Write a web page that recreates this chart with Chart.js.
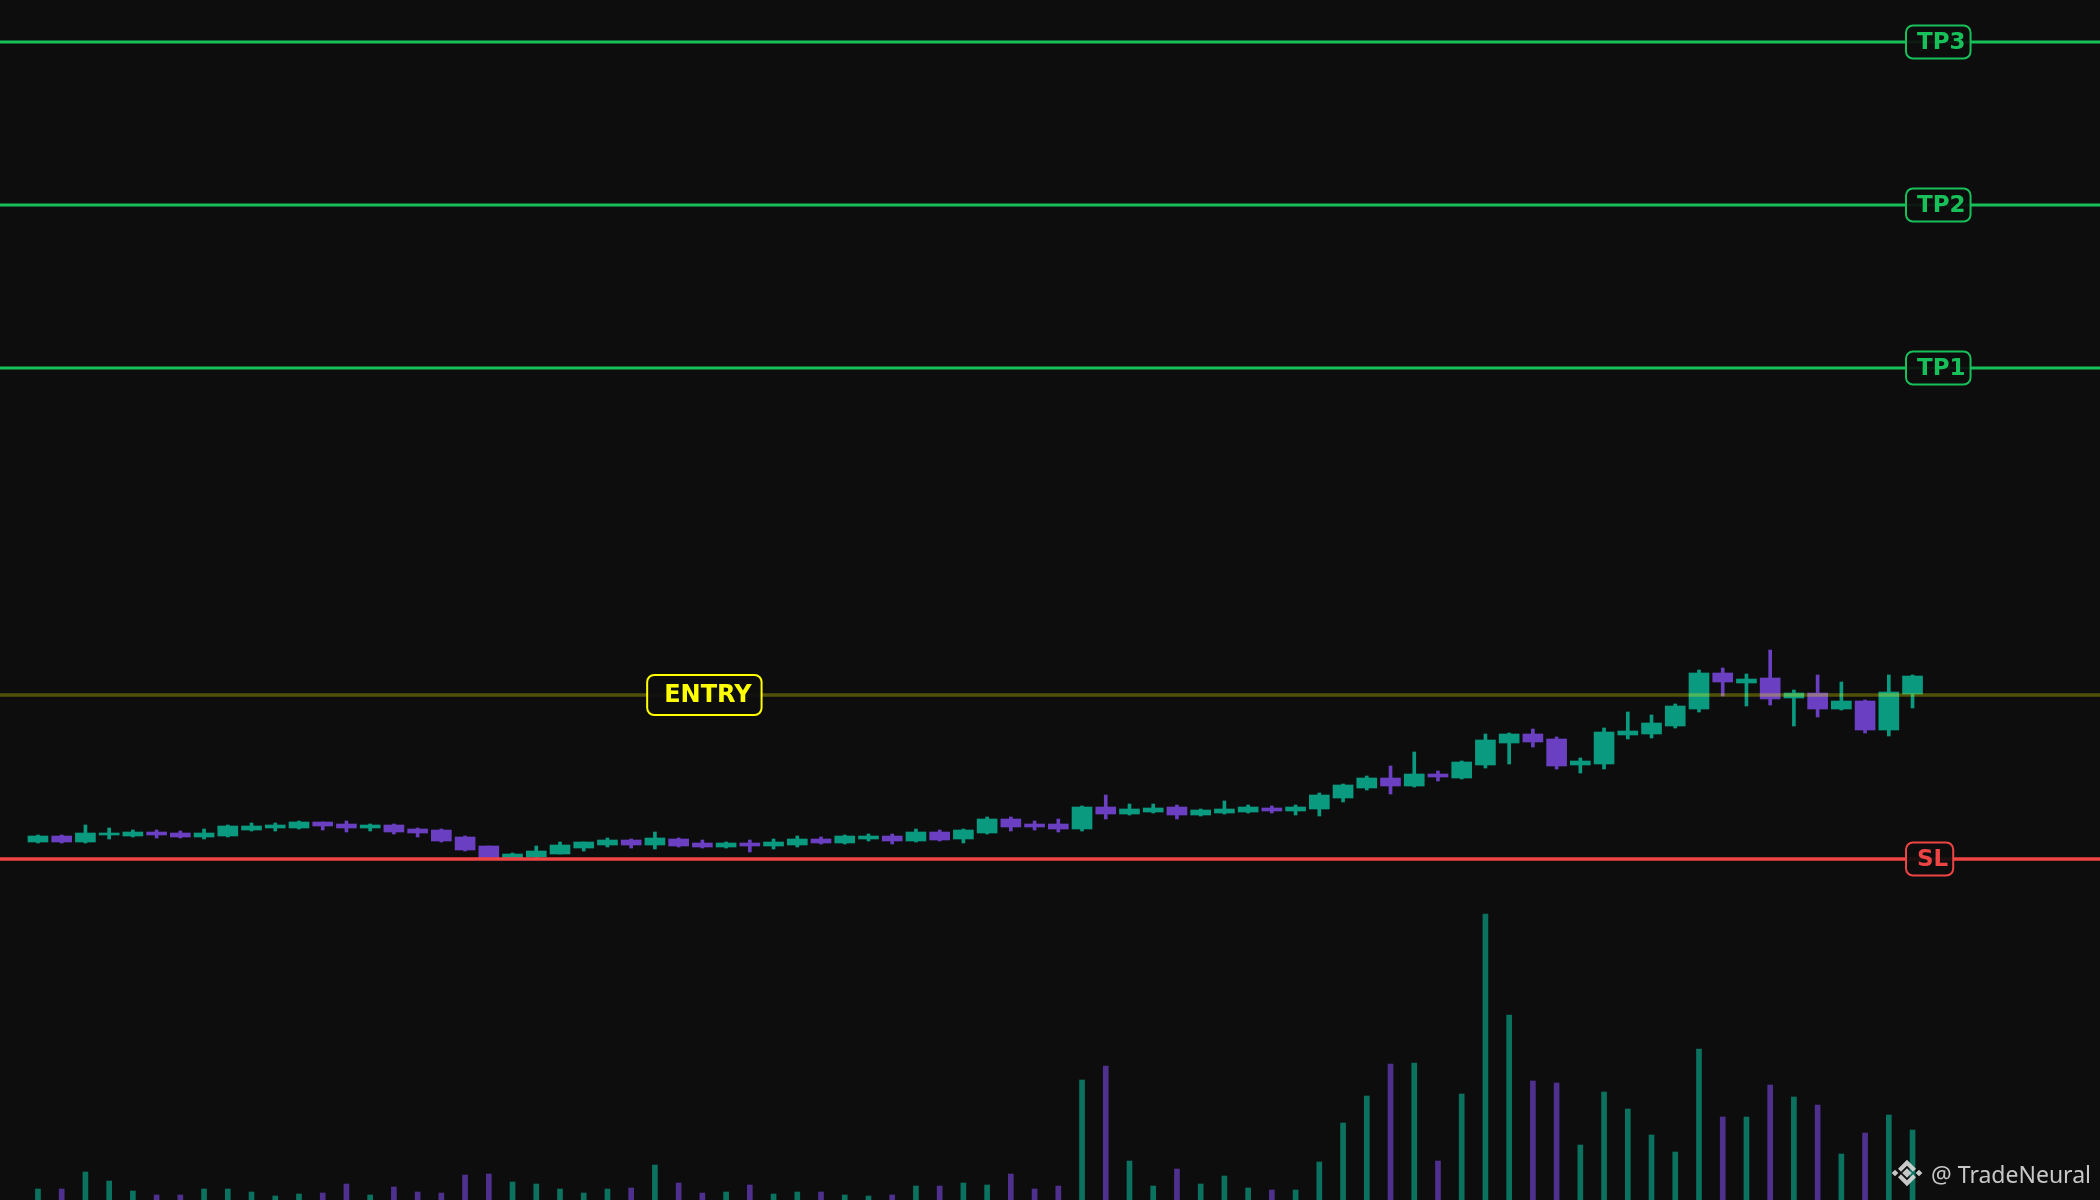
<!DOCTYPE html>
<html lang="en">
<head>
  <meta charset="UTF-8">
  <title>Trade Setup</title>
  <style>
    html, body {
      margin: 0;
      padding: 0;
      background: #0d0d0d;
      overflow: hidden;
    }
    #chartWrapper {
      position: relative;
      width: 2100px;
      height: 1200px;
    }
  </style>
</head>
<body>
  <div id="chartWrapper">
    <canvas id="tradeChart"></canvas>
  </div>

  <script src="https://cdn.jsdelivr.net/npm/chart.js/dist/chart.umd.min.js"></script>
  <script>
    // candles, oldest first
    const opens = [
      10.17, 10.23, 10.17, 10.24, 10.23, 10.27, 10.26, 10.22, 10.23, 10.29,
      10.31, 10.31, 10.37, 10.35, 10.31, 10.34, 10.30, 10.29, 10.22, 10.13,
      10.01, 10.02, 10.05, 10.11, 10.14, 10.19, 10.14, 10.20, 10.16, 10.12,
      10.16, 10.13, 10.14, 10.20, 10.16, 10.20, 10.23, 10.18, 10.27, 10.20,
      10.26, 10.40, 10.35, 10.35, 10.30, 10.52, 10.45, 10.47, 10.52, 10.44,
      10.46, 10.47, 10.51, 10.48, 10.50, 10.61, 10.71, 10.81, 10.73, 10.85,
      10.81, 10.94, 11.16, 11.25, 11.20, 10.94, 10.95, 11.24, 11.25, 11.33,
      11.50, 11.86, 11.76, 11.81, 11.61, 11.66, 11.50, 11.58, 11.29, 11.65
    ];
    const highs = [
      10.24, 10.24, 10.34, 10.31, 10.29, 10.29, 10.28, 10.30, 10.34, 10.36,
      10.36, 10.38, 10.37, 10.38, 10.35, 10.35, 10.31, 10.30, 10.23, 10.13,
      10.06, 10.13, 10.17, 10.17, 10.21, 10.20, 10.27, 10.21, 10.19, 10.17,
      10.19, 10.20, 10.23, 10.22, 10.24, 10.25, 10.25, 10.30, 10.29, 10.30,
      10.42, 10.42, 10.38, 10.40, 10.53, 10.64, 10.55, 10.55, 10.54, 10.50,
      10.58, 10.54, 10.53, 10.54, 10.66, 10.75, 10.83, 10.93, 11.07, 10.88,
      10.98, 11.25, 11.26, 11.30, 11.22, 11.01, 11.31, 11.47, 11.44, 11.55,
      11.89, 11.91, 11.85, 12.09, 11.69, 11.84, 11.77, 11.59, 11.84, 11.84
    ];
    const lows = [
      10.16, 10.16, 10.16, 10.20, 10.22, 10.21, 10.21, 10.20, 10.22, 10.28,
      10.28, 10.30, 10.29, 10.27, 10.28, 10.25, 10.22, 10.17, 10.08, 10.00,
      10.00, 10.01, 10.05, 10.08, 10.12, 10.11, 10.10, 10.12, 10.11, 10.11,
      10.07, 10.10, 10.12, 10.15, 10.15, 10.18, 10.15, 10.17, 10.18, 10.16,
      10.25, 10.28, 10.29, 10.27, 10.28, 10.40, 10.44, 10.46, 10.40, 10.43,
      10.45, 10.46, 10.46, 10.44, 10.43, 10.57, 10.69, 10.65, 10.72, 10.78,
      10.80, 10.91, 10.95, 11.12, 10.90, 10.86, 10.90, 11.20, 11.21, 11.31,
      11.47, 11.63, 11.53, 11.54, 11.33, 11.42, 11.49, 11.26, 11.23, 11.51
    ];
    const closes = [
      10.23, 10.17, 10.26, 10.26, 10.27, 10.24, 10.22, 10.26, 10.33, 10.33,
      10.34, 10.37, 10.33, 10.31, 10.34, 10.27, 10.26, 10.18, 10.09, 10.01,
      10.05, 10.08, 10.14, 10.17, 10.19, 10.14, 10.21, 10.13, 10.12, 10.16,
      10.13, 10.17, 10.20, 10.16, 10.23, 10.23, 10.18, 10.27, 10.19, 10.29,
      10.40, 10.32, 10.32, 10.30, 10.52, 10.45, 10.50, 10.51, 10.44, 10.49,
      10.50, 10.52, 10.48, 10.52, 10.64, 10.74, 10.81, 10.73, 10.85, 10.82,
      10.97, 11.19, 11.25, 11.17, 10.93, 10.98, 11.27, 11.28, 11.36, 11.53,
      11.86, 11.77, 11.80, 11.60, 11.66, 11.50, 11.58, 11.29, 11.67, 11.83
    ];
    const volumes = [
      110, 110, 280, 190, 90, 50, 50, 110, 110, 80,
      40, 60, 70, 160, 50, 130, 80, 70, 250, 260,
      180, 160, 110, 70, 110, 120, 350, 170, 70, 80,
      150, 60, 80, 80, 50, 40, 50, 140, 140, 170,
      150, 260, 110, 140, 1200, 1340, 390, 140, 310, 160,
      240, 120, 100, 100, 380, 770, 1040, 1360, 1370, 390,
      1060, 2860, 1850, 1190, 1170, 550, 1080, 910, 650, 480,
      1510, 830, 830, 1150, 1030, 950, 460, 670, 850, 700
    ];

    // trade levels
    const levelLabels = ['TP3', 'TP2', 'TP1', 'ENTRY', 'SL'];
    const levelPrices = [18.17, 16.54, 14.91, 11.64, 10.00];
    const entryCandle = 28;

    const UP = '#0a9a80';
    const DOWN = '#6a3fc1';
    const UP_VOL = 'rgba(10,154,128,0.72)';
    const DOWN_VOL = 'rgba(106,63,193,0.72)';

    function roundBox(ctx, x, y, w, h, r) {
      ctx.beginPath();
      ctx.moveTo(x + r, y);
      ctx.arcTo(x + w, y, x + w, y + h, r);
      ctx.arcTo(x + w, y + h, x, y + h, r);
      ctx.arcTo(x, y + h, x, y, r);
      ctx.arcTo(x, y, x + w, y, r);
      ctx.closePath();
    }

    // horizontal lines + tags for TP / entry / SL
    const levelsPlugin = {
      id: 'levels',
      afterDatasetsDraw(chart) {
        const { ctx, chartArea, scales } = chart;
        ctx.save();
        levelLabels.forEach((name, i) => {
          const y = scales.y.getPixelForValue(levelPrices[i]);
          const isEntry = name === 'ENTRY';
          const color = name === 'SL' ? '#ef4444' : isEntry ? '#ffff00' : '#18c05a';

          ctx.beginPath();
          ctx.moveTo(chartArea.left, y);
          ctx.lineTo(chartArea.right, y);
          ctx.strokeStyle = isEntry ? 'rgba(255,255,0,0.28)' : color;
          ctx.lineWidth = name === 'SL' ? 3.5 : isEntry ? 3.5 : 3;
          ctx.stroke();

          const fontSize = isEntry ? 24 : 23;
          ctx.font = 'bold ' + fontSize + 'px "DejaVu Sans"';
          const tw = ctx.measureText(name).width;
          const padL = isEntry ? 17 : 11;
          const padR = isEntry ? 10 : 5;
          const h = isEntry ? 40 : 33;
          const w = tw + padL + padR;
          const x = isEntry
            ? scales.x.getPixelForValue(entryCandle) - w / 2 + 2
            : chartArea.right - 194;

          roundBox(ctx, x, y - h / 2, w, h, 7);
          ctx.fillStyle = 'rgba(13,13,13,0.92)';
          ctx.fill();
          ctx.lineWidth = 2;
          ctx.strokeStyle = color;
          ctx.stroke();

          ctx.fillStyle = color;
          ctx.textAlign = 'left';
          ctx.textBaseline = 'alphabetic';
          ctx.fillText(name, x + padL, y + fontSize * 0.31);
        });
        ctx.restore();
      }
    };

    // little logo + handle in the bottom right corner
    const watermarkPlugin = {
      id: 'watermark',
      afterDraw(chart) {
        const { ctx, chartArea } = chart;
        const cx = chartArea.right - 193;
        const cy = chartArea.bottom - 27;
        const k = 1.2;
        ctx.save();
        ctx.fillStyle = 'rgba(215,215,215,0.92)';

        const diamond = (x, y, r) => {
          ctx.beginPath();
          ctx.moveTo(x, y - r);
          ctx.lineTo(x + r, y);
          ctx.lineTo(x, y + r);
          ctx.lineTo(x - r, y);
          ctx.closePath();
          ctx.fill();
        };
        diamond(cx, cy, 4 * k);
        diamond(cx - 10 * k, cy, 2.8 * k);
        diamond(cx + 10 * k, cy, 2.8 * k);
        [-1, 1].forEach(s => {
          ctx.beginPath();
          ctx.moveTo(cx, cy + s * 11 * k);
          ctx.lineTo(cx + 7.5 * k, cy + s * 3.5 * k);
          ctx.lineTo(cx + 5 * k, cy + s * 1 * k);
          ctx.lineTo(cx, cy + s * 6 * k);
          ctx.lineTo(cx - 5 * k, cy + s * 1 * k);
          ctx.lineTo(cx - 7.5 * k, cy + s * 3.5 * k);
          ctx.closePath();
          ctx.fill();
        });

        ctx.font = '23px "Noto Sans"';
        ctx.textAlign = 'right';
        ctx.textBaseline = 'alphabetic';
        ctx.fillText('@ TradeNeural', chartArea.right - 9, chartArea.bottom - 17);
        ctx.restore();
      }
    };

    document.addEventListener('DOMContentLoaded', () => {
      const bodies = opens.map((o, i) => ({ x: i, y: [o, closes[i]] }));
      const wicks = lows.map((l, i) => ({ x: i, y: [l, highs[i]] }));
      const vols = volumes.map((v, i) => ({ x: i, y: v }));
      const candleColors = opens.map((o, i) => closes[i] >= o ? UP : DOWN);
      const volColors = opens.map((o, i) => closes[i] >= o ? UP_VOL : DOWN_VOL);

      new Chart(document.getElementById('tradeChart'), {
        type: 'bar',
        data: {
          datasets: [
            {
              label: 'Body',
              data: bodies,
              backgroundColor: candleColors,
              barThickness: 20,
              grouped: false,
              yAxisID: 'y',
              order: 0
            },
            {
              label: 'Wick',
              data: wicks,
              backgroundColor: candleColors,
              barThickness: 3,
              grouped: false,
              yAxisID: 'y',
              order: 1
            },
            {
              label: 'Volume',
              data: vols,
              backgroundColor: volColors,
              barThickness: 5,
              grouped: false,
              yAxisID: 'yv',
              order: 2
            }
          ]
        },
        options: {
          responsive: true,
          maintainAspectRatio: false,
          animation: false,
          layout: { padding: 0 },
          plugins: {
            legend: { display: false },
            tooltip: { enabled: false }
          },
          scales: {
            x: { type: 'linear', min: -1.6, max: 86.9, offset: false, display: false },
            y: { min: 6.59, max: 18.59, display: false },
            yv: { min: 0, max: 12000, display: false, position: 'right' }
          }
        },
        plugins: [levelsPlugin, watermarkPlugin]
      });
    });
  </script>
</body>
</html>
